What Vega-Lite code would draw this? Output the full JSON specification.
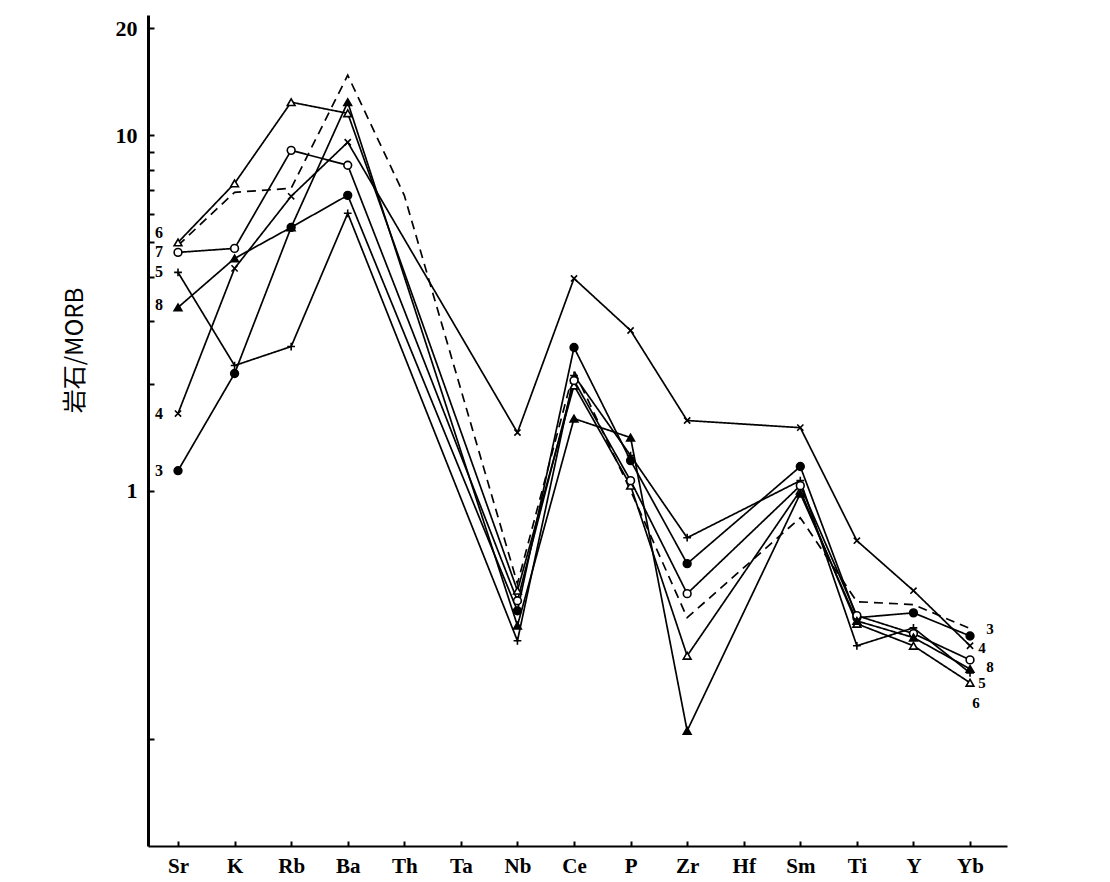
{
  "$schema": "https://vega.github.io/schema/vega-lite/v6.json",
  "width": 859,
  "height": 831,
  "autosize": {"type": "none"},
  "padding": {"left": 148, "top": 15, "right": 103, "bottom": 36},
  "background": "white",
  "config": {"view": {"stroke": null}},
  "datasets": {
    "series": [
      {"s": "3", "e": "Sr", "v": 1.138}, {"s": "3", "e": "K", "v": 2.136}, {"s": "3", "e": "Rb", "v": 5.507}, {"s": "3", "e": "Ba", "v": 6.776}, {"s": "3", "e": "Nb", "v": 0.459}, {"s": "3", "e": "Ce", "v": 2.528}, {"s": "3", "e": "P", "v": 1.215}, {"s": "3", "e": "Zr", "v": 0.623}, {"s": "3", "e": "Sm", "v": 1.169}, {"s": "3", "e": "Ti", "v": 0.439}, {"s": "3", "e": "Y", "v": 0.453}, {"s": "3", "e": "Yb", "v": 0.39},
      {"s": "4", "e": "Sr", "v": 1.648}, {"s": "4", "e": "K", "v": 4.221}, {"s": "4", "e": "Rb", "v": 6.734}, {"s": "4", "e": "Ba", "v": 9.557}, {"s": "4", "e": "Nb", "v": 1.457}, {"s": "4", "e": "Ce", "v": 3.955}, {"s": "4", "e": "P", "v": 2.823}, {"s": "4", "e": "Zr", "v": 1.575}, {"s": "4", "e": "Sm", "v": 1.504}, {"s": "4", "e": "Ti", "v": 0.723}, {"s": "4", "e": "Y", "v": 0.523}, {"s": "4", "e": "Yb", "v": 0.366},
      {"s": "5", "e": "Sr", "v": 4.113}, {"s": "5", "e": "K", "v": 2.249}, {"s": "5", "e": "Rb", "v": 2.544}, {"s": "5", "e": "Ba", "v": 6.031}, {"s": "5", "e": "Nb", "v": 0.378}, {"s": "5", "e": "Ce", "v": 2.109}, {"s": "5", "e": "P", "v": 1.255}, {"s": "5", "e": "Zr", "v": 0.737}, {"s": "5", "e": "Sm", "v": 1.067}, {"s": "5", "e": "Ti", "v": 0.366}, {"s": "5", "e": "Y", "v": 0.411}, {"s": "5", "e": "Yb", "v": 0.307},
      {"s": "6", "e": "Sr", "v": 4.995}, {"s": "6", "e": "K", "v": 7.323}, {"s": "6", "e": "Rb", "v": 12.39}, {"s": "6", "e": "Ba", "v": 11.53}, {"s": "6", "e": "Nb", "v": 0.523}, {"s": "6", "e": "Ce", "v": 1.976}, {"s": "6", "e": "P", "v": 1.033}, {"s": "6", "e": "Zr", "v": 0.343}, {"s": "6", "e": "Sm", "v": 1.0}, {"s": "6", "e": "Ti", "v": 0.422}, {"s": "6", "e": "Y", "v": 0.366}, {"s": "6", "e": "Yb", "v": 0.288},
      {"s": "7", "e": "Sr", "v": 4.682}, {"s": "7", "e": "K", "v": 4.805}, {"s": "7", "e": "Rb", "v": 9.07}, {"s": "7", "e": "Ba", "v": 8.233}, {"s": "7", "e": "Nb", "v": 0.49}, {"s": "7", "e": "Ce", "v": 2.041}, {"s": "7", "e": "P", "v": 1.067}, {"s": "7", "e": "Zr", "v": 0.513}, {"s": "7", "e": "Sm", "v": 1.033}, {"s": "7", "e": "Ti", "v": 0.445}, {"s": "7", "e": "Y", "v": 0.396}, {"s": "7", "e": "Yb", "v": 0.334},
      {"s": "8", "e": "Sr", "v": 3.277}, {"s": "8", "e": "K", "v": 4.503}, {"s": "8", "e": "Rb", "v": 5.507}, {"s": "8", "e": "Ba", "v": 12.39}, {"s": "8", "e": "Nb", "v": 0.417}, {"s": "8", "e": "Ce", "v": 1.595}, {"s": "8", "e": "P", "v": 1.41}, {"s": "8", "e": "Zr", "v": 0.211}, {"s": "8", "e": "Sm", "v": 0.981}, {"s": "8", "e": "Ti", "v": 0.43}, {"s": "8", "e": "Y", "v": 0.386}, {"s": "8", "e": "Yb", "v": 0.315},
      {"s": "d", "e": "Sr", "v": 4.898}, {"s": "d", "e": "K", "v": 6.91}, {"s": "d", "e": "Rb", "v": 7.09}, {"s": "d", "e": "Ba", "v": 14.76}, {"s": "d", "e": "Th", "v": 6.776}, {"s": "d", "e": "Nb", "v": 0.547}, {"s": "d", "e": "Ce", "v": 2.178}, {"s": "d", "e": "P", "v": 1.0}, {"s": "d", "e": "Zr", "v": 0.439}, {"s": "d", "e": "Sm", "v": 0.839}, {"s": "d", "e": "Ti", "v": 0.487}, {"s": "d", "e": "Y", "v": 0.478}, {"s": "d", "e": "Yb", "v": 0.409}
    ],
    "leftLabels": [
      {"t": "6", "e": "Sr", "v": 5.297}, {"t": "7", "e": "Sr", "v": 4.682}, {"t": "5", "e": "Sr", "v": 4.113},
      {"t": "8", "e": "Sr", "v": 3.319}, {"t": "4", "e": "Sr", "v": 1.648}, {"t": "3", "e": "Sr", "v": 1.138}
    ],
    "rightLabels": [
      {"t": "3", "g": "a", "e": "Yb", "v": 0.409}, {"t": "4", "g": "b", "e": "Yb", "v": 0.361}, {"t": "8", "g": "a", "e": "Yb", "v": 0.318},
      {"t": "5", "g": "b", "e": "Yb", "v": 0.288}, {"t": "6", "g": "c", "e": "Yb", "v": 0.253}
    ]
  },
  "encoding": {
    "x": {
      "field": "e", "type": "ordinal",
      "scale": {"domain": ["Sr","K","Rb","Ba","Th","Ta","Nb","Ce","P","Zr","Hf","Sm","Ti","Y","Yb"], "padding": 0.592, "align": 0.448},
      "axis": {
        "title": null, "labelAngle": 0, "domainColor": "black", "domainWidth": 2,
        "tickColor": "black", "tickWidth": 2, "tickSize": -5, "labelPadding": 14,
        "labelFont": "Liberation Serif", "labelFontSize": 21, "labelColor": "black", "labelFontWeight": "bold"
      }
    },
    "y": {
      "field": "v", "type": "quantitative",
      "scale": {"type": "log", "domain": [0.1, 21.8], "nice": false},
      "axis": {
        "title": "岩石/MORB", "titleFont": "Noto Sans CJK SC", "titleFontSize": 24, "titleFontWeight": "normal",
        "titleColor": "black", "titleX": -73, "titleY": 335, "titleAngle": -90, "titleAlign": "center", "titleBaseline": "middle",
        "values": [0.2, 1, 2, 3, 4, 5, 6, 7, 8, 9, 10, 20],
        "labelExpr": "datum.value == 1 || datum.value == 10 || datum.value == 20 ? datum.label : ''",
        "domainColor": "black", "domainWidth": 3, "tickColor": "black", "tickWidth": 2, "tickSize": -6,
        "labelPadding": 17, "labelFont": "Liberation Serif", "labelFontSize": 22, "labelFontWeight": "bold", "labelColor": "black",
        "grid": false
      }
    }
  },
  "layer": [
    {
      "mark": {"type": "rule", "color": "black", "strokeWidth": 2},
      "encoding": {"y": {"datum": 1}, "x": null}
    },
    {
      "data": {"name": "series"},
      "mark": {"type": "line", "color": "black", "strokeWidth": 1.7},
      "encoding": {
        "detail": {"field": "s"},
        "order": {"value": null},
        "strokeDash": {"field": "s", "type": "nominal", "legend": null,
          "scale": {"domain": ["3","4","5","6","7","8","d"], "range": [[1,0],[1,0],[1,0],[1,0],[1,0],[1,0],[9,6]]}}
      }
    },
    {
      "data": {"name": "series"},
      "transform": [{"filter": "datum.s != 'd'"}],
      "mark": {"type": "point", "filled": true, "stroke": "black", "strokeWidth": 1.6, "opacity": 1, "size": 60},
      "encoding": {
        "shape": {"field": "s", "type": "nominal", "legend": null,
          "scale": {"domain": ["3","4","5","6","7","8"], "range": ["circle", "M-0.8,-0.8L0.8,0.8M-0.8,0.8L0.8,-0.8", "M-1,0L1,0M0,-1L0,1", "triangle-up", "circle", "triangle-up"]}},
        "fill": {"field": "s", "type": "nominal", "legend": null,
          "scale": {"domain": ["3","4","5","6","7","8"], "range": ["black", "black", "black", "white", "white", "black"]}}
      }
    },
    {
      "data": {"name": "leftLabels"},
      "mark": {"type": "text", "dx": -19, "font": "Liberation Serif", "fontSize": 16, "fontWeight": "bold", "color": "black", "align": "center", "baseline": "middle"},
      "encoding": {"text": {"field": "t"}}
    },
    {
      "data": {"name": "rightLabels"},
      "transform": [{"filter": "datum.g == 'a'"}],
      "mark": {"type": "text", "dx": 20, "font": "Liberation Serif", "fontSize": 15, "fontWeight": "bold", "color": "black", "align": "center", "baseline": "middle"},
      "encoding": {"text": {"field": "t"}}
    },
    {
      "data": {"name": "rightLabels"},
      "transform": [{"filter": "datum.g == 'b'"}],
      "mark": {"type": "text", "dx": 12, "font": "Liberation Serif", "fontSize": 15, "fontWeight": "bold", "color": "black", "align": "center", "baseline": "middle"},
      "encoding": {"text": {"field": "t"}}
    },
    {
      "data": {"name": "rightLabels"},
      "transform": [{"filter": "datum.g == 'c'"}],
      "mark": {"type": "text", "dx": 6, "font": "Liberation Serif", "fontSize": 15, "fontWeight": "bold", "color": "black", "align": "center", "baseline": "middle"},
      "encoding": {"text": {"field": "t"}}
    }
  ]
}
